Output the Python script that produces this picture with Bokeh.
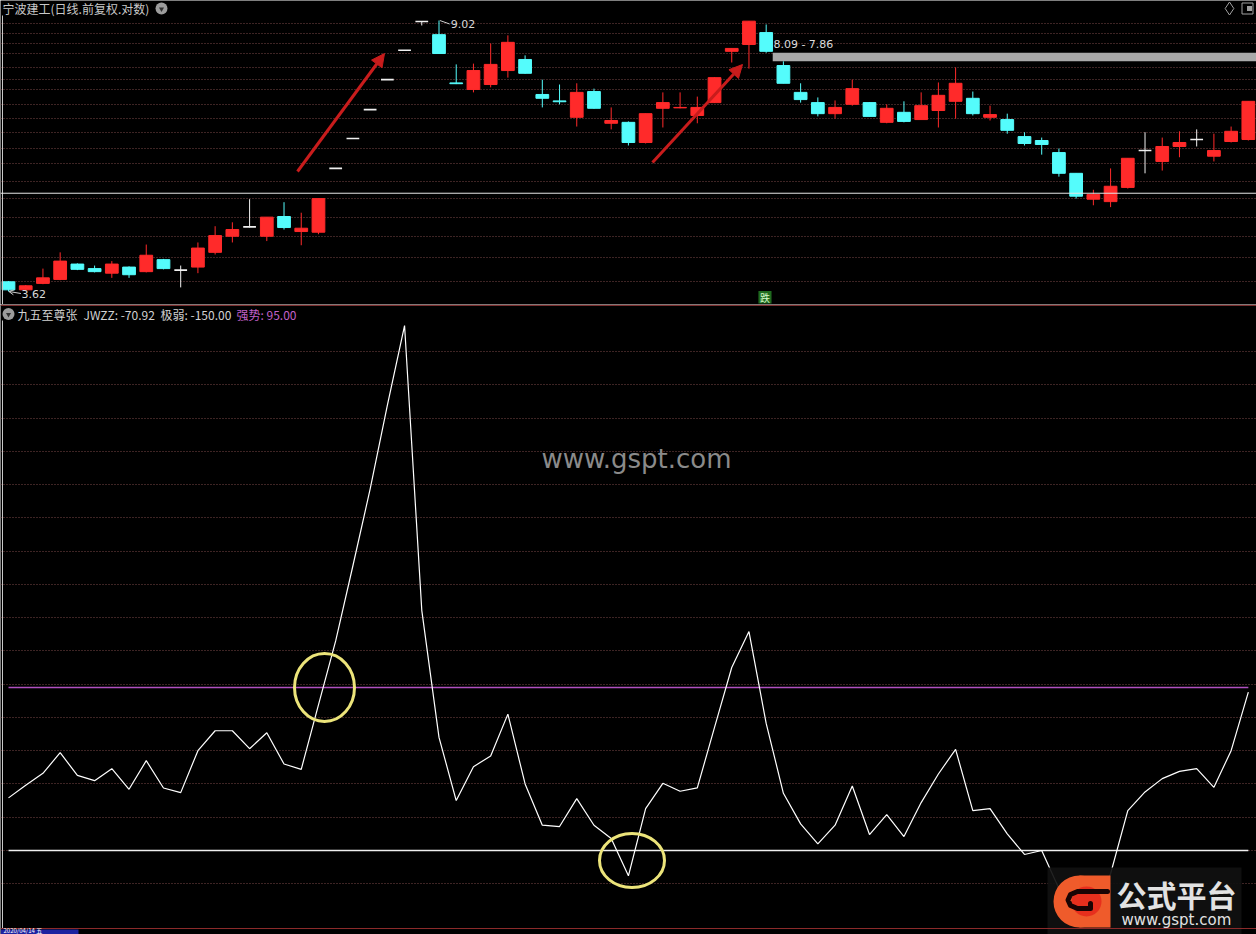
import math
from bokeh.plotting import figure
from bokeh.layouts import column
from bokeh.models import (Range1d, Span, Label, Arrow, NormalHead, OpenHead,
                          Grid, FixedTicker, ColumnDataSource)
from bokeh.embed import file_html
from bokeh.resources import INLINE

# ---------------- data ----------------
stock_title = "宁波建工(日线.前复权.对数)"
opens = [3.74, 3.64, 3.72, 3.77, 3.97, 3.91, 3.85, 3.93, 3.87, 4.03,
         3.89, 3.93, 4.13, 4.36, 4.50, 4.36, 4.66, 4.43, 4.42, 5.48,
         6.06, 6.68, 7.39, 8.16, 8.99, 8.60, 7.31, 7.15, 7.27, 7.62,
         7.91, 7.03, 6.88, 6.51, 7.10, 6.38, 6.40, 5.98, 6.71, 6.72,
         6.55, 6.84, 8.13, 8.32, 8.66, 7.75, 7.08, 6.84, 6.59, 6.80,
         6.84, 6.40, 6.62, 6.46, 6.66, 6.87, 6.94, 6.51, 6.46, 6.10,
         6.02, 5.78, 5.39, 4.94, 4.90, 5.14, 5.82, 5.61, 5.90, 6.04,
         5.71, 6.00, 6.04]
highs = [3.75, 3.70, 3.91, 4.13, 3.98, 3.95, 4.01, 3.94, 4.24, 4.04,
         3.95, 4.27, 4.51, 4.57, 4.94, 4.65, 4.89, 4.72, 4.95, 5.48,
         6.06, 6.68, 7.39, 8.16, 8.99, 9.02, 7.78, 7.80, 8.35, 8.58,
         8.02, 7.39, 7.27, 7.30, 7.17, 6.73, 6.42, 6.59, 7.08, 7.08,
         6.98, 7.45, 8.21, 9.00, 8.90, 7.86, 7.30, 6.96, 6.89, 7.39,
         6.85, 6.80, 6.87, 7.08, 7.32, 7.70, 7.10, 6.77, 6.59, 6.19,
         6.08, 5.86, 5.39, 5.10, 5.48, 5.67, 6.19, 6.08, 6.21, 6.25,
         6.16, 6.31, 6.87]
lows = [3.62, 3.63, 3.71, 3.76, 3.89, 3.86, 3.79, 3.79, 3.86, 3.90,
        3.67, 3.85, 4.10, 4.27, 4.49, 4.29, 4.46, 4.23, 4.39, 5.48,
        6.06, 6.68, 7.39, 8.16, 8.87, 8.06, 7.28, 7.08, 7.20, 7.44,
        7.54, 6.73, 6.80, 6.31, 6.70, 6.25, 5.92, 5.96, 6.29, 6.71,
        6.38, 6.83, 7.83, 7.67, 8.09, 7.30, 6.84, 6.53, 6.48, 6.77,
        6.53, 6.38, 6.40, 6.46, 6.29, 6.48, 6.55, 6.44, 6.16, 5.92,
        5.74, 5.33, 4.95, 4.84, 4.81, 5.12, 5.39, 5.44, 5.69, 5.90,
        5.61, 5.98, 6.02]
closes = [3.64, 3.69, 3.79, 4.01, 3.90, 3.87, 3.97, 3.83, 4.09, 3.91,
          3.89, 4.19, 4.37, 4.46, 4.50, 4.65, 4.49, 4.48, 4.95, 5.48,
          6.06, 6.68, 7.39, 8.16, 8.99, 8.07, 7.29, 7.62, 7.78, 8.38,
          7.55, 6.94, 6.86, 7.08, 6.71, 6.44, 5.98, 6.59, 6.84, 6.73,
          6.73, 7.44, 8.21, 9.00, 8.13, 7.30, 6.91, 6.59, 6.73, 7.17,
          6.53, 6.71, 6.42, 6.77, 7.01, 7.30, 6.59, 6.57, 6.23, 5.96,
          5.94, 5.39, 4.99, 5.02, 5.16, 5.67, 5.82, 5.90, 5.98, 6.04,
          5.82, 6.21, 6.87]
gap_start_idx = 44
gap_top = 8.09
gap_bottom = 7.86
white_line_price = 5.04
signal_idx = 44
signal_text = "跌"

ind_name = "九五至尊张"
jwzz = [-70.92, -52, -34, -3, -37, -45, -27, -58, -15, -56,
        -63, 0, 30, 30, 3, 27, -20, -28, 69, 165,
        278, 393, 519, 639, 211, 20, -75, -24, -8, 55,
        -50, -112, -114, -72, -112, -132, -188, -87, -49, -61,
        -56, 35, 125, 179, 41, -64, -110, -140, -112, -53,
        -126, -96, -129, -78, -35, 2, -90, -87, -125, -156,
        -150, -207, -235, -235, -185, -90, -62, -42, -31, -27,
        -55, 0, 88]
weak_level = -150.0
strong_level = 95.0
date_label = "2020/04/14 五"

# ---------------- helpers mapping the reference frame ----------------
X0, DX = 8.0, 17.22
def ix(px):
    return (px - X0) / DX
def pr(py):
    return 9.02 * math.exp(-(py - 20.0) / 296.8)
def iv(py):
    return (750.2 - py) / 0.6653

W = 1256
H_TOP = 304
H_BOT = 630
UP = "#ff2a2a"
DOWN = "#54fcfc"
FLAT = "#f0f0f0"
GRID = "#7a4848"
CJK = "Noto Sans CJK SC"

n = len(opens)
idx = list(range(n))

common = dict(width=W, x_axis_location=None, y_axis_location=None,
              toolbar_location=None, output_backend="svg", min_border=0,
              background_fill_color="#000000", border_fill_color="#000000",
              outline_line_color=None, title=None)


def strip_grids(p):
    p.center = [r for r in p.center if not isinstance(r, Grid)]


# ---------------- top panel: candles ----------------
xr = Range1d(ix(0), ix(1256))
top = figure(height=H_TOP, x_range=xr, y_range=Range1d(pr(304), pr(0)),
             y_axis_type="log", **common)
strip_grids(top)

top_grid = [8.94, 8.63, 8.35, 8.07, 7.70, 7.39, 7.15, 6.80, 6.48, 6.19,
            5.87, 5.57, 5.25, 4.95, 4.65, 4.35, 4.06, 3.74]
top.add_layout(Grid(dimension=1, ticker=FixedTicker(ticks=top_grid),
                    grid_line_color=GRID, grid_line_dash="1 2", grid_line_width=1))

top.add_layout(Span(location=white_line_price, dimension="width",
                    line_color="#e6e6e6", line_width=1))

# gap band
top.quad(left=[gap_start_idx + 0.38], right=[ix(1300)], top=[gap_top],
         bottom=[gap_bottom], fill_color="#a9a9a9", line_color=None)
top.add_layout(Label(x=gap_start_idx + 0.42, y=pr(44),
                     text=f"{gap_top:.2f} - {gap_bottom:.2f}",
                     text_font="DejaVu Sans", text_font_size="11px",
                     text_color="#dcdcdc", text_baseline="middle"))

colors = [UP if c > o else (DOWN if c < o else FLAT) for o, c in zip(opens, closes)]
body = dict(x=[], top=[], bottom=[], color=[])
flat = dict(x0=[], x1=[], y=[], color=[])
for i in range(n):
    o, c = opens[i], closes[i]
    if o == c:
        flat["x0"].append(i - 0.37)
        flat["x1"].append(i + 0.37)
        flat["y"].append(o)
        flat["color"].append(colors[i])
    else:
        body["x"].append(i)
        body["top"].append(max(o, c))
        body["bottom"].append(min(o, c))
        body["color"].append(colors[i])

wick_src = ColumnDataSource(dict(x=idx, h=highs, l=lows, color=colors))
top.segment(x0="x", y0="h", x1="x", y1="l", line_color="color",
            line_width=1, source=wick_src)
top.vbar(x="x", width=0.74, top="top", bottom="bottom", fill_color="color",
         line_color="color", line_width=1, source=ColumnDataSource(body))
top.segment(x0="x0", y0="y", x1="x1", y1="y", line_color="color",
            line_width=1.6, source=ColumnDataSource(flat))

# high / low markers
imax = max(range(n), key=lambda k: highs[k])
imin = min(range(n), key=lambda k: lows[k])
top.segment(x0=[imax + 0.05], y0=[highs[imax]], x1=[imax + 0.62], y1=[pr(23.5)],
            line_color="#d0d0d0", line_width=1)
top.add_layout(Label(x=imax + 0.68, y=pr(23), text=f"{highs[imax]:.2f}",
                     text_font="DejaVu Sans", text_font_size="11px",
                     text_color="#d8d8d8", text_baseline="middle"))
top.add_layout(Arrow(end=OpenHead(size=5, line_color="#d0d0d0", line_width=1),
                     x_start=imin + 0.72, y_start=pr(293), x_end=imin + 0.02,
                     y_end=lows[imin], line_color="#d0d0d0", line_width=1))
top.add_layout(Label(x=imin + 0.75, y=pr(293), text=f"{lows[imin]:.2f}",
                     text_font="DejaVu Sans", text_font_size="11px",
                     text_color="#d8d8d8", text_baseline="middle"))

# red arrows
for (sx, sy, ex, ey) in [(297, 171, 384, 53), (652, 162, 742, 64)]:
    top.add_layout(Arrow(end=NormalHead(size=13, fill_color="#c81c1c",
                                        line_color="#c81c1c"),
                         x_start=ix(sx), y_start=pr(sy), x_end=ix(ex), y_end=pr(ey),
                         line_color="#c81c1c", line_width=3))

# signal box
top.quad(left=[signal_idx - 0.45], right=[signal_idx + 0.31], top=[pr(290.5)],
         bottom=[pr(303)], fill_color="#1f6a1f", line_color=None)
top.add_layout(Label(x=signal_idx - 0.07, y=pr(296.5), text=signal_text,
                     text_font=CJK, text_font_size="10px", text_color="#d4f7c8",
                     text_align="center", text_baseline="middle"))

# left border line
top.segment(x0=[ix(2)], y0=[pr(15)], x1=[ix(2)], y1=[pr(304)],
            line_color="#c8c8c8", line_width=1)

# title row
top.add_layout(Label(x=ix(2), y=pr(8), text=stock_title, text_font=CJK,
                     text_font_size="12px", text_color="#c8c8c8",
                     text_baseline="middle"))
top.scatter(x=[ix(161)], y=[pr(8)], marker="circle", size=12,
            fill_color="#9c9c9c", line_color=None)
top.scatter(x=[ix(161)], y=[pr(8.5)], marker="inverted_triangle", size=5,
            fill_color="#303030", line_color=None)
top.scatter(x=[ix(1229)], y=[pr(8)], marker="diamond", size=13,
            fill_color=None, line_color="#a0a0a0", line_width=1)
top.scatter(x=[ix(1247)], y=[pr(8)], marker="square", size=11,
            fill_color=None, line_color="#a0a0a0", line_width=1)
top.scatter(x=[ix(1249)], y=[pr(8)], marker="square", size=5,
            fill_color="#a0a0a0", line_color=None)

# ---------------- bottom panel: indicator ----------------
bot = figure(height=H_BOT, x_range=xr, y_range=Range1d(iv(934), iv(304)), **common)
strip_grids(bot)
bot.add_layout(Grid(dimension=1, ticker=FixedTicker(ticks=list(range(-200, 601, 50))),
                    grid_line_color=GRID, grid_line_dash="1 2", grid_line_width=1))

bot.add_layout(Span(location=iv(304.8), dimension="width",
                    line_color="#9b3a3a", line_width=1))
bot.add_layout(Span(location=iv(928), dimension="width",
                    line_color="#8b2a2a", line_width=1))

bot.line(idx, [strong_level] * n, line_color="#b050c0", line_width=1.3)
bot.line(idx, [weak_level] * n, line_color="#f0f0f0", line_width=1.3)
bot.line(idx, jwzz, line_color="#ffffff", line_width=1.2)

# highlight circles
bot.ellipse(x=[ix(324), ix(631.5)], y=[iv(687), iv(860)],
            width=[60 / DX, 65 / DX], height=[68 / 0.6653, 54 / 0.6653],
            fill_color=None, line_color="#ece47a", line_width=3)

# watermark
bot.add_layout(Label(x=ix(636), y=iv(458), text="www.gspt.com",
                     text_font="DejaVu Sans", text_font_size="26px",
                     text_color="#8a8a8a", text_align="center",
                     text_baseline="middle"))

# left border line
bot.segment(x0=[ix(2)], y0=[iv(320)], x1=[ix(2)], y1=[iv(928)],
            line_color="#c8c8c8", line_width=1)

# title row
ty = iv(313.5)
bot.scatter(x=[ix(8)], y=[ty], marker="circle", size=12,
            fill_color="#9c9c9c", line_color=None)
bot.scatter(x=[ix(8)], y=[iv(314)], marker="inverted_triangle", size=5,
            fill_color="#303030", line_color=None)
for tx, txt, col in [(17, ind_name, "#d2d2d2"),
                     (83, f"JWZZ: {jwzz[0]:.2f}", "#d2d2d2"),
                     (160, f"极弱: {weak_level:.2f}", "#d2d2d2"),
                     (236, f"强势: {strong_level:.2f}", "#c060c8")]:
    bot.add_layout(Label(x=ix(tx), y=ty, text=txt, text_font=CJK,
                         text_font_size="12px", text_color=col,
                         text_baseline="middle"))

# date strip
bot.quad(left=[ix(0)], right=[ix(78)], top=[iv(929)], bottom=[iv(945)],
         fill_color="#1c22a0", line_color=None)
bot.add_layout(Label(x=ix(3), y=iv(930.2), text=date_label, text_font=CJK,
                     text_font_size="6px", text_color="#ffffff",
                     text_baseline="middle"))

# logo
bot.quad(left=[ix(1047)], right=[ix(1241)], top=[iv(867)], bottom=[iv(940)],
         fill_color="#101010", line_color=None, fill_alpha=0.92)
bot.ellipse(x=[ix(1079)], y=[iv(901)], width=[52 / DX], height=[52 / 0.6653],
            fill_color="#ef5b2b", line_color=None)
bot.quad(left=[ix(1079)], right=[ix(1110)], top=[iv(875)], bottom=[iv(927)],
         fill_color="#ef5b2b", line_color=None)
bot.ellipse(x=[ix(1086)], y=[iv(901)], width=[30 / DX], height=[30 / 0.6653],
            fill_color="#e4201a", line_color=None, fill_alpha=0.75)
cx = [1107, 1077, 1070, 1067.5, 1070, 1077, 1090, 1090]
cy = [891, 891, 894, 899.5, 905, 908, 908, 903]
bot.line([ix(a) for a in cx], [iv(b) for b in cy], line_color="#1a0404",
         line_width=5, line_join="round", line_cap="round")
bot.add_layout(Label(x=ix(1116), y=iv(893), text="公式平台", text_font=CJK,
                     text_font_style="bold", text_font_size="30px",
                     text_color="#e2e2e2", text_baseline="middle"))
bot.add_layout(Label(x=ix(1121), y=iv(919), text="www.gspt.com",
                     text_font="DejaVu Sans", text_font_size="15px",
                     text_color="#e2e2e2", text_baseline="middle"))

layout = column(top, bot)
with open("out.html", "w", encoding="utf-8") as f:
    f.write(file_html(layout, INLINE))
